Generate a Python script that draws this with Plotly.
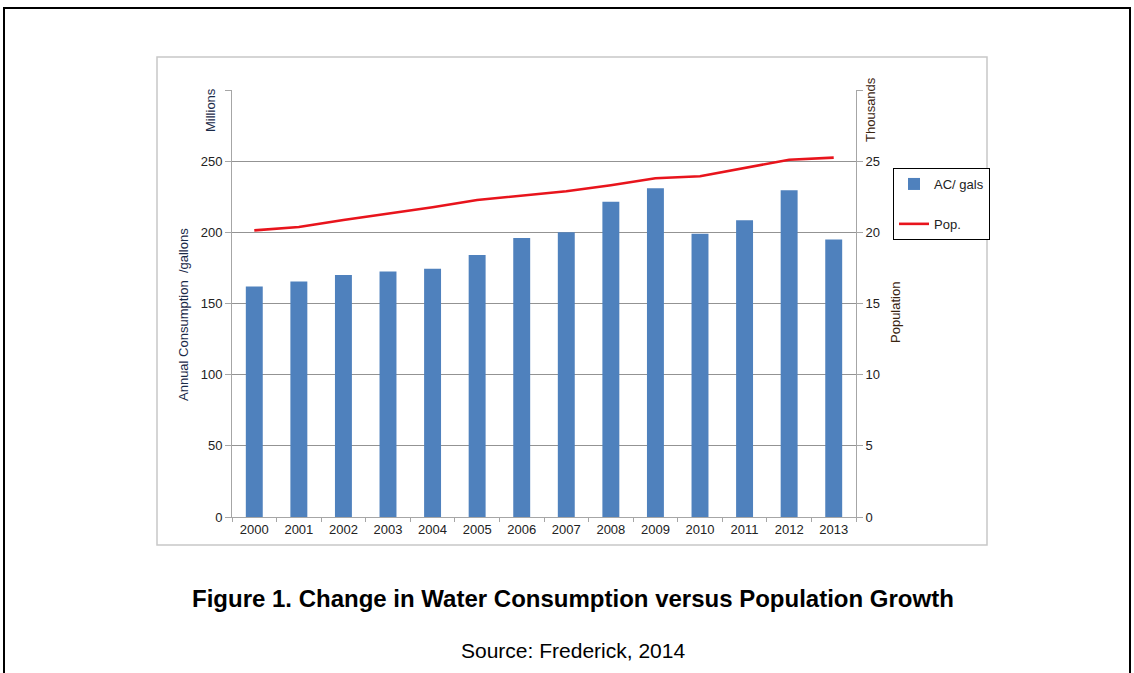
import plotly.graph_objects as go

years = ["2000", "2001", "2002", "2003", "2004", "2005", "2006", "2007",
         "2008", "2009", "2010", "2011", "2012", "2013"]
consumption_millions = [162, 165.5, 170, 172.5, 174.5, 184, 196, 200,
                        221.5, 231, 199, 208.5, 229.5, 195]
population_thousands = [20.14, 20.37, 20.87, 21.29, 21.76, 22.27, 22.56, 22.89,
                        23.31, 23.8, 23.94, 24.51, 25.1, 25.25]
left_ticks = [0, 50, 100, 150, 200, 250]
right_ticks = [0, 5, 10, 15, 20, 25]

W, H = 1134, 673
L, R, T, B = 232, 856, 90, 517
pw, ph = R - L, B - T


def px(x):
    return (x - L) / pw


def py(y):
    return (B - y) / ph


FONT = "Liberation Sans, Arial, sans-serif"

fig = go.Figure()
fig.add_trace(go.Bar(x=years, y=consumption_millions, name="AC/ gals",
                     marker=dict(color="#4f81bd", line=dict(width=0)),
                     legendgroup="a", yaxis="y"))
fig.add_trace(go.Scatter(x=years, y=population_thousands, name="Pop.",
                         mode="lines", line=dict(color="#e8141c", width=2.6),
                         legendgroup="b", yaxis="y2"))

axis_grey = "#a6a6a6"
tick_font = dict(size=13, color="#222222")
fig.update_layout(
    width=W, height=H,
    margin=dict(l=L, r=W - R, t=T, b=H - B),
    paper_bgcolor="white", plot_bgcolor="white",
    font=dict(family=FONT, size=13, color="#222222"),
    bargap=0.62,
    xaxis=dict(type="category", showline=True, linecolor=axis_grey, linewidth=1,
               ticks="outside", tickson="boundaries", ticklen=4, tickcolor=axis_grey,
               showgrid=False, tickfont=tick_font),
    yaxis=dict(range=[0, 300], tickvals=left_ticks, showgrid=True,
               gridcolor="#939393", gridwidth=1, zeroline=False,
               showline=True, linecolor=axis_grey, linewidth=1,
               ticks="outside", ticklen=6, tickcolor=axis_grey,
               tickfont=tick_font,
               minor=dict(tickvals=[300], ticks="outside", ticklen=6,
                          tickcolor=axis_grey, showgrid=False)),
    yaxis2=dict(range=[0, 30], tickvals=right_ticks, overlaying="y", side="right",
                showgrid=False, zeroline=False, showline=True, linecolor=axis_grey,
                linewidth=1, ticks="outside", ticklen=6, tickcolor=axis_grey,
                tickfont=tick_font,
                minor=dict(tickvals=[30], ticks="outside", ticklen=6,
                           tickcolor=axis_grey, showgrid=False)),
    legend=dict(x=px(893), y=py(168), xanchor="left", yanchor="top",
                bordercolor="#000000", borderwidth=1, bgcolor="white",
                font=dict(size=13, color="#222222"), itemwidth=30,
                traceorder="grouped", tracegroupgap=20),
    showlegend=True,
)

shapes = [
    # outer black frame
    dict(type="rect", xref="paper", yref="paper",
         x0=px(4), x1=px(1130), y0=py(690), y1=py(8),
         line=dict(color="#000000", width=2), fillcolor="rgba(0,0,0,0)", layer="below"),
    # grey chart frame
    dict(type="rect", xref="paper", yref="paper",
         x0=px(157), x1=px(987), y0=py(545), y1=py(57),
         line=dict(color="#c8c8c8", width=1.5), fillcolor="rgba(0,0,0,0)", layer="below"),
]
fig.update_layout(shapes=shapes)

annotations = [
    dict(text="Millions", x=px(210), y=py(110), textangle=-90,
         font=dict(size=13, color="#1a2a48")),
    dict(text="Annual Consumption  /gallons", x=px(183), y=py(315), textangle=-90,
         font=dict(size=13, color="#1a2a48")),
    dict(text="Thousands", x=px(870), y=py(110), textangle=-90,
         font=dict(size=13, color="#3a2410")),
    dict(text="Population", x=px(895), y=py(313), textangle=-90,
         font=dict(size=13, color="#3a2410")),
    dict(text="<b>Figure 1. Change in Water Consumption versus Population Growth</b>",
         x=px(573), y=py(598), font=dict(size=24, color="#000000")),
    dict(text="Source: Frederick, 2014", x=px(573), y=py(650),
         font=dict(size=21, color="#000000")),
]
for a in annotations:
    a.update(xref="paper", yref="paper", showarrow=False,
             xanchor="center", yanchor="middle")
fig.update_layout(annotations=annotations)

fig.write_html("out.html", config={"displayModeBar": False},
               post_script="document.body.style.margin='0px';"
                           "document.body.style.overflow='hidden';")
